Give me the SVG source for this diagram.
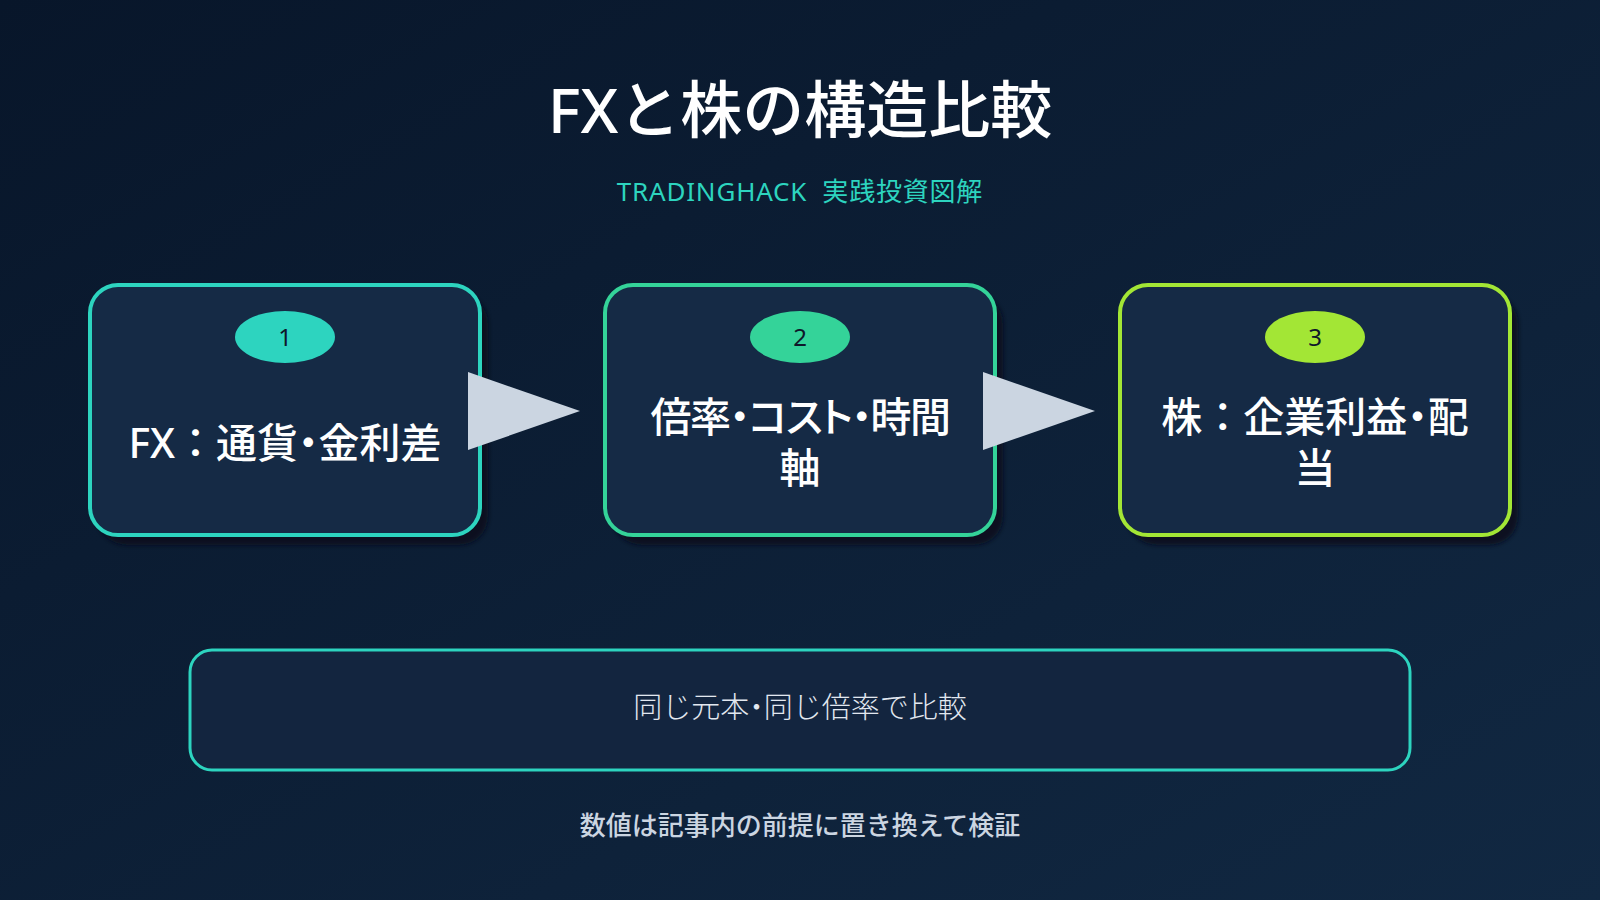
<svg xmlns="http://www.w3.org/2000/svg" width="1600" height="900" viewBox="0 0 1600 900">
<defs>
<linearGradient id="bg" x1="0" y1="0" x2="1" y2="1">
<stop offset="0" stop-color="#08162a"/>
<stop offset="1" stop-color="#112842"/>
</linearGradient>
<filter id="sh" x="-10%" y="-10%" width="130%" height="130%">
<feGaussianBlur stdDeviation="2"/>
</filter>
<style>
.jp{font-family:"Noto Sans","Noto Sans CJK JP",sans-serif;white-space:pre;}
.title{font-size:62px;font-weight:500;fill:#ffffff;}
.sub{font-size:26px;font-weight:400;fill:#2dd4bf;letter-spacing:0.8px;}
.shadow{fill:#07111f;opacity:0.85;}
.card{fill:#152a45;stroke-width:4;}
.lbl{font-size:41px;font-weight:500;fill:#ffffff;font-feature-settings:"palt";}
.fw{font-feature-settings:normal;}
.tight{letter-spacing:-1.5px;}
.num{font-size:24px;font-weight:400;fill:#0f172a;}
.arrow{fill:#cbd5e1;}
.note{font-size:29px;font-weight:300;fill:#e2e8f0;font-feature-settings:"palt";}
.foot{font-size:26px;font-weight:500;fill:#cbd5e1;}
</style>
</defs>
<rect width="1600" height="900" fill="url(#bg)"/>
<text class="jp title" x="800" y="133" text-anchor="middle">FXと株の構造比較</text>
<text class="jp sub" x="800" y="201" text-anchor="middle">TRADINGHACK  実践投資図解</text>

<g id="node1">
<rect class="shadow" x="98" y="295" width="390" height="250" rx="28" filter="url(#sh)"/>
<rect class="card" x="90" y="285" width="390" height="250" rx="28" stroke="#2dd4bf"/>
<ellipse cx="285" cy="337" rx="50" ry="26" fill="#2dd4bf"/>
<text class="jp num" x="285" y="346" text-anchor="middle">1</text>
<text class="jp lbl" x="285" y="458" text-anchor="middle">FX<tspan class="fw">：通貨</tspan>・<tspan class="fw">金利差</tspan></text>
</g>
<g id="node2">
<rect class="shadow" x="613" y="295" width="390" height="250" rx="28" filter="url(#sh)"/>
<rect class="card" x="605" y="285" width="390" height="250" rx="28" stroke="#34d399"/>
<ellipse cx="800" cy="337" rx="50" ry="26" fill="#34d399"/>
<text class="jp num" x="800" y="346" text-anchor="middle">2</text>
<text class="jp lbl tight" x="800" y="432" text-anchor="middle">倍率・コスト・時間</text>
<text class="jp lbl" x="800" y="483" text-anchor="middle">軸</text>
</g>
<g id="node3">
<rect class="shadow" x="1128" y="295" width="390" height="250" rx="28" filter="url(#sh)"/>
<rect class="card" x="1120" y="285" width="390" height="250" rx="28" stroke="#a3e635"/>
<ellipse cx="1315" cy="337" rx="50" ry="26" fill="#a3e635"/>
<text class="jp num" x="1315" y="346" text-anchor="middle">3</text>
<text class="jp lbl" x="1315" y="432" text-anchor="middle"><tspan class="fw">株：企業利益</tspan>・<tspan class="fw">配</tspan></text>
<text class="jp lbl" x="1315" y="483" text-anchor="middle">当</text>
</g>

<g id="connectors">
<polygon class="arrow" points="468,372 580,411 468,450"/>
<polygon class="arrow" points="983,372 1095,411 983,450"/>
</g>

<g id="note">
<rect x="190" y="650" width="1220" height="120" rx="22" fill="#13253f" stroke="#2dd4bf" stroke-width="3"/>
<text class="jp note" x="800" y="718" text-anchor="middle"><tspan class="fw">同じ元本</tspan>・<tspan class="fw">同じ倍率で比較</tspan></text>
</g>
<text class="jp foot" x="800" y="835" text-anchor="middle">数値は記事内の前提に置き換えて検証</text>
</svg>
